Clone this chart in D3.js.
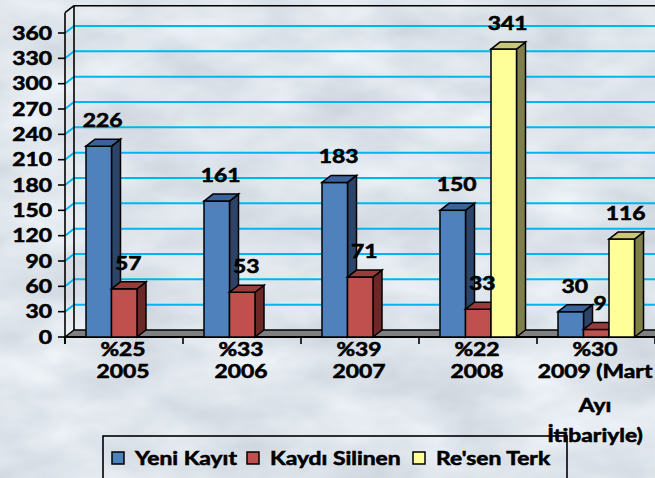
<!DOCTYPE html>
<html><head><meta charset="utf-8">
<script src="https://cdn.jsdelivr.net/npm/d3@7"></script>
<style>
html,body{margin:0;padding:0;background:#dfe4eb;overflow:hidden;}
svg{display:block;}
text{font-family:Lato,"Open Sans",sans-serif;font-weight:bold;fill:#000;font-size:18px;stroke:#000;stroke-width:0.55px;}
</style>
</head><body><svg id="c" width="655" height="478"></svg>
<script>
// ---- data ----
const categories = ["2005","2006","2007","2008","2009"];
const catLines = [["%25","2005"],["%33","2006"],["%39","2007"],["%22","2008"],["%30","2009 (Mart","Ayı","İtibariyle)"]];
const seriesNames = ["Yeni Kayıt","Kaydı Silinen","Re'sen Terk"];
const yeniKayit = [226,161,183,150,30];
const kaydiSilinen = [57,53,71,33,9];
const resenTerk = [0,0,0,341,116];
const yTicks = [0,30,60,90,120,150,180,210,240,270,300,330,360];

// ---- styles ----
const colors = {
  "Yeni Kayıt":   {front:"#4F81BD", side:"#2B4467", top:"#3B629A"},
  "Kaydı Silinen":{front:"#C0504D", side:"#6B2826", top:"#963D3A"},
  "Re'sen Terk":  {front:"#FFFF99", side:"#7F7F4D", top:"#C8C878"}
};
const seriesData = [yeniKayit, kaydiSilinen, resenTerk];

const svg = d3.select("#c");
const W = 655, H = 478;
const DX = 9, DY = -7;

// background texture
const defs = svg.append("defs");
const f = defs.append("filter").attr("id","marble").attr("x",0).attr("y",0).attr("width","100%").attr("height","100%")
  .attr("color-interpolation-filters","sRGB");
f.append("feTurbulence").attr("type","fractalNoise").attr("baseFrequency","0.01 0.02").attr("numOctaves",4).attr("seed",7).attr("result","n");
f.append("feColorMatrix").attr("type","matrix")
  .attr("values","0.2 0 0 0 0.77  0.2 0 0 0 0.795  0.17 0 0 0 0.835  0 0 0 0 1");
svg.append("rect").attr("width",W).attr("height",H).attr("fill","#dfe4eb");
svg.append("rect").attr("width",W).attr("height",H).attr("filter","url(#marble)");

// scales
const x = d3.scaleBand().domain(categories).range([65, 655]);
const xs = d3.scaleBand().domain(seriesNames).range([21, 97.5]);
const y = d3.scaleLinear().domain([0, 360]).range([337, 33]);
const yTop = y(384);
const xEnd = 662;

// gridlines (back wall + left wall)
const grid = svg.append("g");
yTicks.filter(v => v > 0).forEach(v => {
  grid.append("line").attr("x1", 65 + DX).attr("x2", xEnd).attr("y1", y(v) + DY).attr("y2", y(v) + DY)
    .attr("stroke","#00B6F0").attr("stroke-width",2);
  grid.append("line").attr("x1", 65).attr("x2", 65 + DX).attr("y1", y(v)).attr("y2", y(v) + DY)
    .attr("stroke","#00B6F0").attr("stroke-width",2);
});

// walls outline
const walls = svg.append("g").attr("stroke","#000").attr("fill","none").attr("stroke-width",1.6);
walls.append("line").attr("x1",65+DX).attr("x2",xEnd).attr("y1",yTop+DY).attr("y2",yTop+DY);
walls.append("line").attr("x1",65+DX).attr("x2",65+DX).attr("y1",yTop+DY).attr("y2",y(0)+DY);
walls.append("line").attr("x1",65).attr("x2",65+DX).attr("y1",yTop).attr("y2",yTop+DY);
walls.append("line").attr("x1",65).attr("x2",65).attr("y1",yTop).attr("y2",y(0)+7);

// floor
svg.append("polygon")
  .attr("points",[[65,y(0)],[65+DX,y(0)+DY],[xEnd,y(0)+DY],[xEnd,y(0)]].map(p=>p.join(",")).join(" "))
  .attr("fill","#808080").attr("stroke","#000").attr("stroke-width",1.4);
svg.append("line").attr("x1",65).attr("x2",xEnd).attr("y1",y(0)).attr("y2",y(0)).attr("stroke","#000").attr("stroke-width",2);

// bars
const bars = svg.append("g").attr("stroke","#000").attr("stroke-width",1.5).attr("stroke-linejoin","miter");
const labels = [];
categories.forEach((c, i) => {
  seriesNames.forEach((s, j) => {
    const v = seriesData[j][i];
    if (!(v > 0)) return;
    const x0 = x(c) + xs(s), w = xs.bandwidth(), yt = y(v), yb = y(0);
    const col = colors[s];
    bars.append("polygon").attr("fill", col.side)
      .attr("points", [[x0+w,yt],[x0+w+DX,yt+DY],[x0+w+DX,yb+DY],[x0+w,yb]].map(p=>p.join(",")).join(" "));
    bars.append("rect").attr("x", x0).attr("y", yt).attr("width", w).attr("height", yb - yt).attr("fill", col.front);
    bars.append("polygon").attr("fill", col.top)
      .attr("points", [[x0,yt],[x0+DX,yt+DY],[x0+w+DX,yt+DY],[x0+w,yt]].map(p=>p.join(",")).join(" "));
    labels.push({x: x0 + w/2 + 4, y: yt - 19, t: String(v)});
  });
});

function txt(g, tx, ty, str, anchor) {
  return g.append("text").attr("transform", `translate(${tx},${ty}) scale(1.27,1)`)
    .attr("text-anchor", anchor).text(str);
}

const lg = svg.append("g");
labels.forEach(d => txt(lg, d.x, d.y, d.t, "middle"));

// y axis ticks & labels
const ya = svg.append("g");
yTicks.forEach(v => {
  ya.append("line").attr("x1",58).attr("x2",65).attr("y1",y(v)).attr("y2",y(v)).attr("stroke","#000").attr("stroke-width",1.6);
  txt(ya, 52, y(v) + 6.5, String(v), "end");
});

// x axis ticks
const xa = svg.append("g");
const bounds = categories.map(c => x(c)).concat([x.range()[1]]);
bounds.forEach(b => {
  xa.append("line").attr("x1",b).attr("x2",b).attr("y1",y(0)).attr("y2",y(0)+7).attr("stroke","#000").attr("stroke-width",1.6);
});

// legend
const leg = svg.append("g");
leg.append("rect").attr("x",103).attr("y",436).attr("width",464).attr("height",70)
  .attr("fill","none").attr("stroke","#000").attr("stroke-width",1.6);
const legX = [112, 247, 413];
seriesNames.forEach((s, j) => {
  leg.append("rect").attr("x", legX[j]).attr("y", 452).attr("width", 12).attr("height", 12)
    .attr("fill", colors[s].front).attr("stroke","#000").attr("stroke-width",1.5);
  txt(leg, legX[j] + 23, 465, s, "start");
});

// category labels
const lineY = [356, 378, 412, 442];
const cl = svg.append("g");
categories.forEach((c, i) => {
  catLines[i].forEach((t, k) => txt(cl, x(c) + x.bandwidth()/2 - 1, lineY[k], t, "middle"));
});
</script>
</body></html>
